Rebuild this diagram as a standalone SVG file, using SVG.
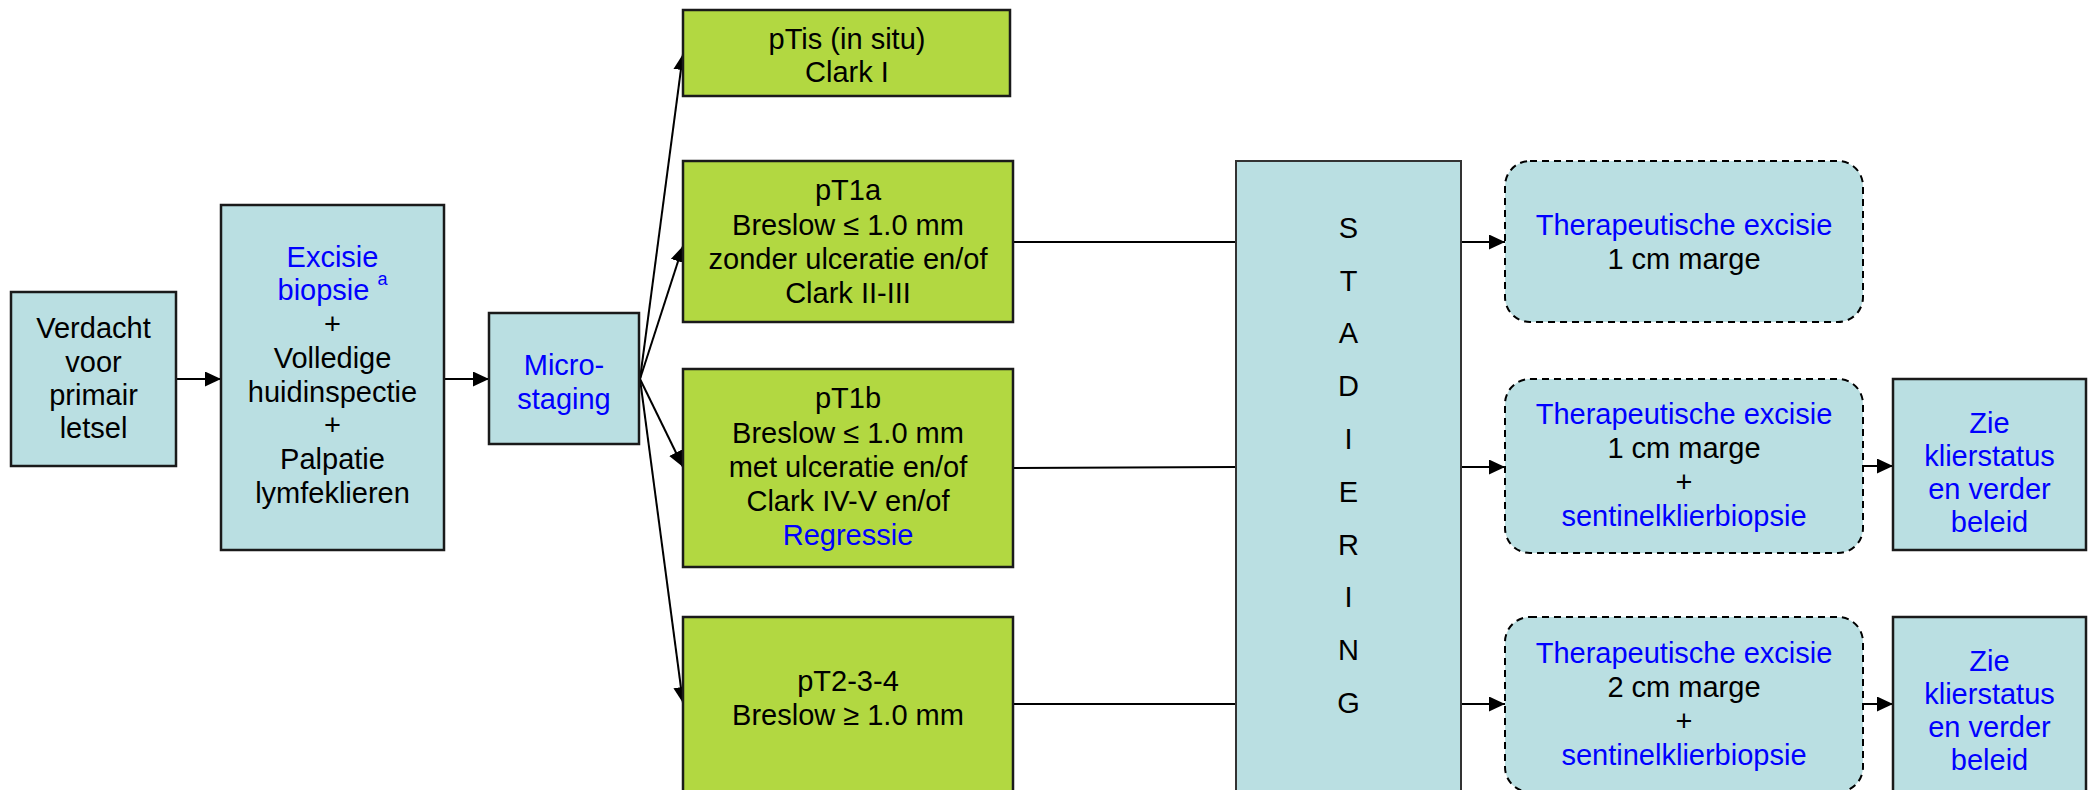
<svg xmlns="http://www.w3.org/2000/svg" width="2089" height="790" viewBox="0 0 2089 790">
<style>
text{font-family:"Liberation Sans",Arial,sans-serif;font-size:29px;fill:#000;text-anchor:middle;dominant-baseline:central}
.b{fill:#0000FF}
.blue{fill:#BADFE2;stroke:#1a1a1a;stroke-width:2.5}
.green{fill:#B2D841;stroke:#1a1a1a;stroke-width:2.5}
.dash{fill:#BADFE2;stroke:#000;stroke-width:2;stroke-dasharray:7 5}
.stad{fill:#BADFE2;stroke:#333;stroke-width:2}
.c{stroke:#000;stroke-width:2;fill:none}
.a{marker-end:url(#ah)}
</style>
<defs>
<marker id="ah" markerUnits="userSpaceOnUse" markerWidth="17" markerHeight="16" refX="16" refY="7.5" orient="auto">
<path d="M0,0 L16,7.5 L0,15 z" fill="#000"/>
</marker>
</defs>
<rect width="2089" height="790" fill="#fff"/>

<g id="connectors">
<line class="c a" x1="176" y1="379" x2="221" y2="379"/>
<line class="c a" x1="444" y1="379" x2="489" y2="379"/>
<line class="c a" x1="640" y1="379" x2="683" y2="54"/>
<line class="c a" x1="640" y1="379" x2="683" y2="246"/>
<line class="c a" x1="640" y1="379" x2="683" y2="467"/>
<line class="c a" x1="640" y1="379" x2="683" y2="703"/>
<line class="c" x1="1013" y1="242" x2="1236" y2="242"/>
<line class="c" x1="1013" y1="468" x2="1236" y2="467"/>
<line class="c" x1="1013" y1="704" x2="1236" y2="704"/>
<line class="c a" x1="1461" y1="242" x2="1505" y2="242"/>
<line class="c a" x1="1461" y1="467" x2="1505" y2="467"/>
<line class="c a" x1="1461" y1="704" x2="1505" y2="704"/>
<line class="c a" x1="1863" y1="466" x2="1893" y2="466"/>
<line class="c a" x1="1863" y1="704" x2="1893" y2="704"/>
</g>

<g id="verdacht">
<rect class="blue" x="11" y="292" width="165" height="174"/>
<text x="93.5" y="328">Verdacht</text>
<text x="93.5" y="362">voor</text>
<text x="93.5" y="395">primair</text>
<text x="93.5" y="428">letsel</text>
</g>

<g id="excisie">
<rect class="blue" x="221" y="205" width="223" height="345"/>
<text class="b" x="332.5" y="257">Excisie</text>
<text class="b" x="332.5" y="290">biopsie <tspan font-size="18" dy="-11">a</tspan></text>
<text x="332.5" y="324">+</text>
<text x="332.5" y="358">Volledige</text>
<text x="332.5" y="392">huidinspectie</text>
<text x="332.5" y="425">+</text>
<text x="332.5" y="459">Palpatie</text>
<text x="332.5" y="493">lymfeklieren</text>
</g>

<g id="microstaging">
<rect class="blue" x="489" y="313" width="150" height="131"/>
<text class="b" x="564" y="365">Micro-</text>
<text class="b" x="564" y="399">staging</text>
</g>

<g id="ptis">
<rect class="green" x="683" y="10" width="327" height="86"/>
<text x="847" y="39">pTis (in situ)</text>
<text x="847" y="72">Clark I</text>
</g>

<g id="pt1a">
<rect class="green" x="683" y="161" width="330" height="161"/>
<text x="848" y="190">pT1a</text>
<text x="848" y="225">Breslow ≤ 1.0 mm</text>
<text x="848" y="259">zonder ulceratie en/of</text>
<text x="848" y="293">Clark II-III</text>
</g>

<g id="pt1b">
<rect class="green" x="683" y="369" width="330" height="198"/>
<text x="848" y="398">pT1b</text>
<text x="848" y="433">Breslow ≤ 1.0 mm</text>
<text x="848" y="467">met ulceratie en/of</text>
<text x="848" y="501">Clark IV-V en/of</text>
<text class="b" x="848" y="535">Regressie</text>
</g>

<g id="pt234">
<rect class="green" x="683" y="617" width="330" height="190"/>
<text x="848" y="681">pT2-3-4</text>
<text x="848" y="715">Breslow ≥ 1.0 mm</text>
</g>

<g id="stadiering">
<rect class="stad" x="1236" y="161" width="225" height="645"/>
<text x="1348.5" y="228">S</text>
<text x="1348.5" y="281">T</text>
<text x="1348.5" y="333">A</text>
<text x="1348.5" y="386">D</text>
<text x="1348.5" y="439">I</text>
<text x="1348.5" y="492">E</text>
<text x="1348.5" y="545">R</text>
<text x="1348.5" y="597">I</text>
<text x="1348.5" y="650">N</text>
<text x="1348.5" y="703">G</text>
</g>

<g id="therapie1">
<rect class="dash" x="1505" y="161" width="358" height="161" rx="25" ry="25"/>
<text class="b" x="1684" y="225">Therapeutische excisie</text>
<text x="1684" y="259">1 cm marge</text>
</g>

<g id="therapie2">
<rect class="dash" x="1505" y="379" width="358" height="174" rx="25" ry="25"/>
<text class="b" x="1684" y="414">Therapeutische excisie</text>
<text x="1684" y="448">1 cm marge</text>
<text x="1684" y="482">+</text>
<text class="b" x="1684" y="516">sentinelklierbiopsie</text>
</g>

<g id="therapie3">
<rect class="dash" x="1505" y="617" width="358" height="175" rx="25" ry="25"/>
<text class="b" x="1684" y="653">Therapeutische excisie</text>
<text x="1684" y="687">2 cm marge</text>
<text x="1684" y="721">+</text>
<text class="b" x="1684" y="755">sentinelklierbiopsie</text>
</g>

<g id="zie1">
<rect class="blue" x="1893" y="379" width="193" height="171"/>
<text class="b" x="1989.5" y="423">Zie</text>
<text class="b" x="1989.5" y="456">klierstatus</text>
<text class="b" x="1989.5" y="489">en verder</text>
<text class="b" x="1989.5" y="522">beleid</text>
</g>

<g id="zie2">
<rect class="blue" x="1893" y="617" width="193" height="190"/>
<text class="b" x="1989.5" y="661">Zie</text>
<text class="b" x="1989.5" y="694">klierstatus</text>
<text class="b" x="1989.5" y="727">en verder</text>
<text class="b" x="1989.5" y="760">beleid</text>
</g>
</svg>
